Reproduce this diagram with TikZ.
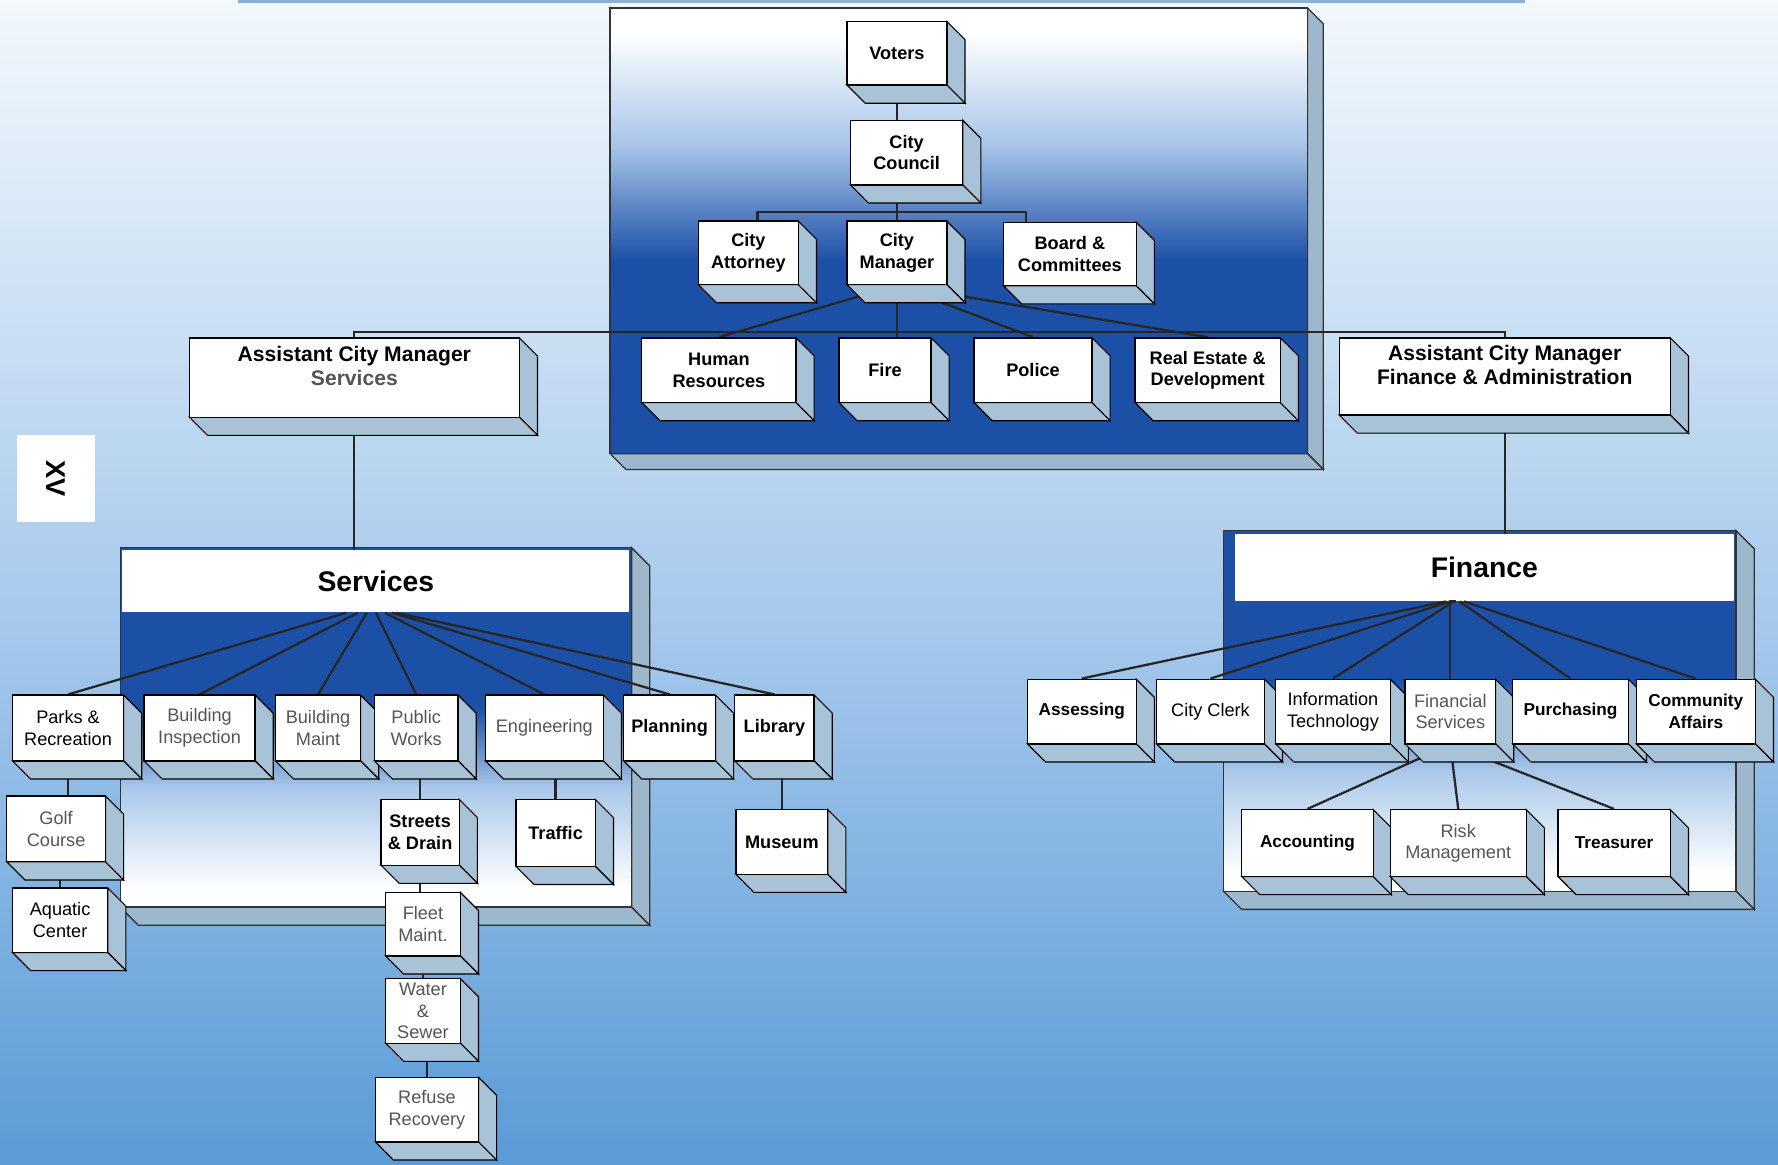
\documentclass[tikz,border=0pt]{standalone}
\usepackage{fontspec}
\setmainfont{Liberation Sans}
\usetikzlibrary{calc}
\definecolor{dblue}{HTML}{1C50A6}
\definecolor{pblue}{HTML}{A6C3E8}
\definecolor{sidec}{HTML}{A8C3D7}
\definecolor{pside}{HTML}{9DB8CC}
\definecolor{txtgray}{HTML}{555555}
\definecolor{lblue}{HTML}{A9C8EA}
\definecolor{bgA}{HTML}{F2F8FC}
\definecolor{bgB}{HTML}{D6E7F6}
\definecolor{bgC}{HTML}{9FC4EA}
\definecolor{bgD}{HTML}{5A9BD6}
\definecolor{strip}{HTML}{8FB0D0}

\pgfdeclarelayer{back}
\pgfdeclarelayer{lines}
\pgfsetlayers{back,lines,main}

\newcommand\dd{16}
% #1 name, #2 x1, #3 y1, #4 x2, #5 y2, #6 style, #7 text
\newcommand\ocube[7]{%
  \filldraw[sideface] (#4,#3) -- ({#4+\dd},{#3+\dd}) -- ({#4+\dd},{#5+\dd}) -- (#4,#5) -- cycle;
  \filldraw[sideface] (#2,#5) -- (#4,#5) -- ({#4+\dd},{#5+\dd}) -- ({#2+\dd},{#5+\dd}) -- cycle;
  \node[cubefront, minimum width={(#4-#2)*0.5pt}, minimum height={(#5-#3)*0.5pt}, #6] (#1) at ({(#2+#4)/2},{(#3+#5)/2}) {#7};
}
% panel: #1 x1, #2 y1, #3 x2, #4 y2, #5 depth
\newcommand\opanelside[5]{%
  \filldraw[panelface] (#3,#2) -- ({#3+#5},{#2+#5}) -- ({#3+#5},{#4+#5}) -- (#3,#4) -- cycle;
  \filldraw[panelface] (#1,#4) -- (#3,#4) -- ({#3+#5},{#4+#5}) -- ({#1+#5},{#4+#5}) -- cycle;
}

\tikzset{
  cubefront/.style={draw=black, line width=0.6pt, fill=white, inner sep=1pt, align=center,
    font=\bfseries\fontsize{8}{9.5}\selectfont, text=black},
  reg/.style={font=\fontsize{8}{9.5}\selectfont},
  gry/.style={reg, text=txtgray},
  sml/.style={font=\bfseries\fontsize{7.6}{9.5}\selectfont},
  acm/.style={font=\bfseries\fontsize{9.3}{10.6}\selectfont},
  sideface/.style={fill=sidec, draw=black, line width=0.5pt},
  panelface/.style={fill=pside, draw=black!80, line width=0.6pt},
  conn/.style={draw=black!85, line width=1pt},
  hdr/.style={fill=white, inner sep=0pt, font=\bfseries\fontsize{12.5}{14}\selectfont}
}

\begin{document}
\begin{tikzpicture}[x=0.5pt, y=-0.5pt]
\useasboundingbox (0,0) rectangle (1568,1027);

\begin{pgfonlayer}{back}
% background
\shade[top color=bgA, bottom color=bgB] (0,0) rectangle (1568,200);
\shade[top color=bgB, bottom color=bgC] (0,199.5) rectangle (1568,600);
\shade[top color=bgC, bottom color=bgD] (0,599.5) rectangle (1568,1027);
\fill[strip] (210,0) rectangle (1345,3);

% top panel
\opanelside{538}{7}{1153}{400}{14}
\fill[white] (538,7) rectangle (1153,30);
\shade[top color=white, bottom color=pblue] (538,29.5) rectangle (1153,130);
\shade[top color=pblue, bottom color=dblue] (538,129.5) rectangle (1153,230);
\fill[dblue] (538,229.5) rectangle (1153,400);
\draw[black!80, line width=0.6pt] (538,7) rectangle (1153,400);

% services panel
\opanelside{106}{483}{557}{800}{16}
\fill[dblue] (106,483) rectangle (557,625);
\shade[top color=dblue, bottom color=lblue] (106,624.5) rectangle (557,695);
\shade[top color=lblue, bottom color=white] (106,694.5) rectangle (557,785);
\fill[white] (106,784.5) rectangle (557,800);
\draw[black!80, line width=0.6pt] (106,483) rectangle (557,800);
\node[hdr, minimum width={447*0.5pt}, minimum height={55*0.5pt}] (services) at (331.5,512.5) {Services};

% finance panel
\opanelside{1079}{468}{1531}{786}{16}
\fill[dblue] (1079,468) rectangle (1531,600);
\shade[top color=dblue, bottom color=lblue] (1079,599.5) rectangle (1531,680);
\shade[top color=lblue, bottom color=white] (1079,679.5) rectangle (1531,770);
\fill[white] (1079,769.5) rectangle (1531,786);
\draw[black!80, line width=0.6pt] (1079,468) rectangle (1531,786);
\node[hdr, minimum width={440*0.5pt}, minimum height={59*0.5pt}] (finance) at (1309,500.5) {Finance};
\end{pgfonlayer}

% XV tag
\node[fill=white, inner sep=0pt, minimum width=38pt, minimum height=34.5pt,
  font=\bfseries\fontsize{12}{12}\selectfont, rotate=-90] (xv) at (49.5,422) {XV};

% top panel boxes
\ocube{voters}{747}{19}{835}{75}{}{Voters}
\ocube{council}{750}{106}{849}{163}{}{City\\Council}
\ocube{attorney}{616}{195}{704}{251}{}{City\\Attorney}
\ocube{cm}{747}{195}{835}{251}{}{City\\Manager}
\ocube{board}{885}{196}{1002}{252}{}{Board \&\\Committees}
\ocube{hr}{566}{298}{702}{355}{}{Human\\Resources}
\ocube{fire}{740}{298}{821}{355}{}{Fire}
\ocube{police}{859}{298}{963}{355}{}{Police}
\ocube{realestate}{1001}{298}{1129}{355}{}{Real Estate \&\\Development}

% assistant city managers
\ocube{acms}{167}{298}{458}{368}{acm}{Assistant City Manager\\\textcolor{txtgray}{Services}\\~}
\ocube{acmf}{1181}{298}{1473}{366}{acm}{Assistant City Manager\\Finance \& Administration\\~}

% services children
\ocube{parks}{11}{613}{109}{671}{reg}{Parks \&\\Recreation}
\ocube{binsp}{127}{613}{225}{671}{gry}{Building\\Inspection}
\ocube{bmaint}{243}{613}{318}{671}{gry}{Building\\Maint}
\ocube{pworks}{330}{613}{404}{671}{gry}{Public\\Works}
\ocube{eng}{428}{613}{532}{671}{gry}{Engineering}
\ocube{plan}{550}{613}{631}{671}{}{Planning}
\ocube{lib}{648}{613}{718}{671}{}{Library}
\ocube{golf}{6}{702}{93}{760}{gry}{Golf\\Course}
\ocube{aquatic}{11}{783}{95}{840}{reg}{Aquatic\\Center}
\ocube{streets}{336}{705}{405}{763}{}{Streets\\\& Drain}
\ocube{traffic}{455}{705}{525}{764}{}{Traffic}
\ocube{fleet}{340}{787}{406}{843}{gry}{Fleet\\Maint.}
\ocube{water}{340}{863}{406}{920}{gry}{Water\\\&\\Sewer}
\ocube{refuse}{331}{950}{422}{1007}{gry}{Refuse\\Recovery}
\ocube{museum}{649}{714}{730}{771}{}{Museum}

% finance children
\ocube{assess}{906}{599}{1002}{656}{sml}{Assessing}
\ocube{clerk}{1020}{599}{1115}{656}{reg}{City Clerk}
\ocube{it}{1125}{599}{1226}{656}{reg}{Information\\Technology}
\ocube{finsvc}{1239}{599}{1319}{656}{gry}{Financial\\Services}
\ocube{purch}{1334}{599}{1436}{656}{sml}{Purchasing}
\ocube{commaff}{1443}{599}{1548}{656}{sml}{Community\\Affairs}
\ocube{acct}{1095}{714}{1211}{773}{sml}{Accounting}
\ocube{risk}{1226}{714}{1346}{773}{gry}{Risk\\Management}
\ocube{treas}{1374}{714}{1473}{773}{sml}{Treasurer}

\coordinate (busL) at (668,187);
\coordinate (busR) at (905,187);
\coordinate (mb) at (0,293);

\begin{pgfonlayer}{lines}
\draw[conn] (voters.south) -- (voters.south |- council.north);
\draw[conn] (voters.south |- council.south) -- (voters.south |- cm.north);
\draw[conn] (busL |- attorney.north) -- (busL) -- (busR) -- (busR |- board.north);
\draw[conn] (cm.south) -- (cm.south |- fire.north);
\draw[conn] (cm.south) -- (hr.north);
\draw[conn] (cm.south) -- (police.north);
\draw[conn] (cm.south) -- (realestate.north);
\draw[conn] (acms.north) -- (acms.north |- mb) -- (acmf.north |- mb) -- (acmf.north);
\draw[conn] (acms.south) -- (acms.south |- services.north);
\draw[conn] (acmf.south) -- (acmf.south |- finance.north);
% services fan
\draw[conn] ($(services.south)+(-26,0)$) -- (parks.north);
\draw[conn] ($(services.south)+(-16,0)$) -- (binsp.north);
\draw[conn] ($(services.south)+(-8,0)$) -- (bmaint.north);
\draw[conn] (services.south) -- (pworks.north);
\draw[conn] ($(services.south)+(8,0)$) -- (eng.north);
\draw[conn] ($(services.south)+(14,0)$) -- (plan.north);
\draw[conn] ($(services.south)+(18,0)$) -- (lib.north);
\draw[conn] (parks.south) -- (parks.south |- golf.north);
\draw[conn] (aquatic.north |- golf.south) -- (aquatic.north);
\draw[conn] (streets.north |- pworks.south) -- (streets.north);
\draw[conn] (streets.south) -- (streets.south |- fleet.north);
\draw[conn] (fleet.south) -- (fleet.south |- water.north);
\draw[conn] (refuse.north |- water.south) -- (refuse.north);
\draw[conn] (traffic.north |- eng.south) -- (traffic.north);
\draw[conn] (museum.north |- lib.south) -- (museum.north);
% finance fan
\draw[conn] ($(finance.south)+(-34,0)$) -- (assess.north);
\draw[conn] ($(finance.south)+(-30,0)$) -- (clerk.north);
\draw[conn] ($(finance.south)+(-27,0)$) -- (it.north);
\draw[conn] ($(finance.south)+(-25,0)$) -- (finsvc.north |- finance.south) -- (finsvc.north);
\draw[conn] ($(finance.south)+(-22,0)$) -- (purch.north);
\draw[conn] ($(finance.south)+(-18,0)$) -- (commaff.north);
\draw[conn] (finsvc.south) -- (acct.north);
\draw[conn] (finsvc.south) -- (risk.north);
\draw[conn] (finsvc.south) -- (treas.north);
\end{pgfonlayer}
\end{tikzpicture}
\end{document}
